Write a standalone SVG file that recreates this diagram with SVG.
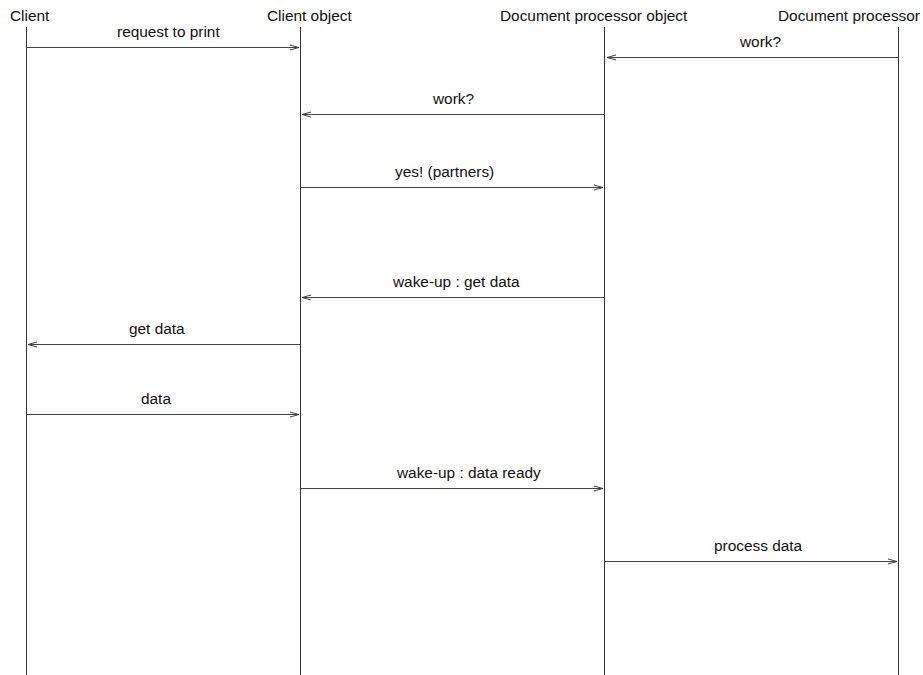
<svg xmlns="http://www.w3.org/2000/svg" width="923" height="675" viewBox="0 0 923 675">
  <style>
    text { font-family: "Liberation Sans", Arial, Helvetica, sans-serif; font-size: 15.4px; fill: #111; }
    .life { stroke: #333; stroke-width: 1; fill: none; }
    .msg { stroke: #444; stroke-width: 1; fill: none; marker-end: url(#open); }
  </style>
  <defs>
    <marker id="open" markerUnits="userSpaceOnUse" markerWidth="12" markerHeight="8" refX="10" refY="4" orient="auto">
      <path d="M1,1.5 L10,4 L1,6.5" fill="none" stroke="#444" stroke-width="1"/>
    </marker>
  </defs>

  <rect width="923" height="675" fill="#fff"/>

  <!-- participants with their lifelines -->
  <g id="client">
    <text x="10" y="21">Client</text>
    <line class="life" x1="26.5" y1="27" x2="26.5" y2="675"/>
  </g>
  <g id="client-object">
    <text x="267" y="21">Client object</text>
    <line class="life" x1="300.5" y1="27" x2="300.5" y2="675"/>
  </g>
  <g id="doc-processor-object">
    <text x="500" y="21">Document processor object</text>
    <line class="life" x1="604.5" y1="27" x2="604.5" y2="675"/>
  </g>
  <g id="doc-processor">
    <text x="778" y="21">Document processor</text>
    <line class="life" x1="898.5" y1="27" x2="898.5" y2="675"/>
  </g>

  <!-- messages -->
  <g id="messages">
    <line class="msg" x1="27" y1="47.5" x2="299" y2="47.5"/>
    <text x="117" y="37">request to print</text>

    <line class="msg" x1="898" y1="57.5" x2="607" y2="57.5"/>
    <text x="740" y="47">work?</text>

    <line class="msg" x1="604" y1="114.5" x2="302" y2="114.5"/>
    <text x="433" y="104">work?</text>

    <line class="msg" x1="301" y1="187.5" x2="603" y2="187.5"/>
    <text x="395" y="177">yes! (partners)</text>

    <line class="msg" x1="604" y1="297.5" x2="302" y2="297.5"/>
    <text x="393" y="287">wake-up : get data</text>

    <line class="msg" x1="300" y1="344.5" x2="28" y2="344.5"/>
    <text x="129" y="334">get data</text>

    <line class="msg" x1="27" y1="414.5" x2="299" y2="414.5"/>
    <text x="141" y="404">data</text>

    <line class="msg" x1="301" y1="488.5" x2="603" y2="488.5"/>
    <text x="397" y="478">wake-up : data ready</text>

    <line class="msg" x1="605" y1="561.5" x2="897" y2="561.5"/>
    <text x="714" y="551">process data</text>
  </g>
</svg>
